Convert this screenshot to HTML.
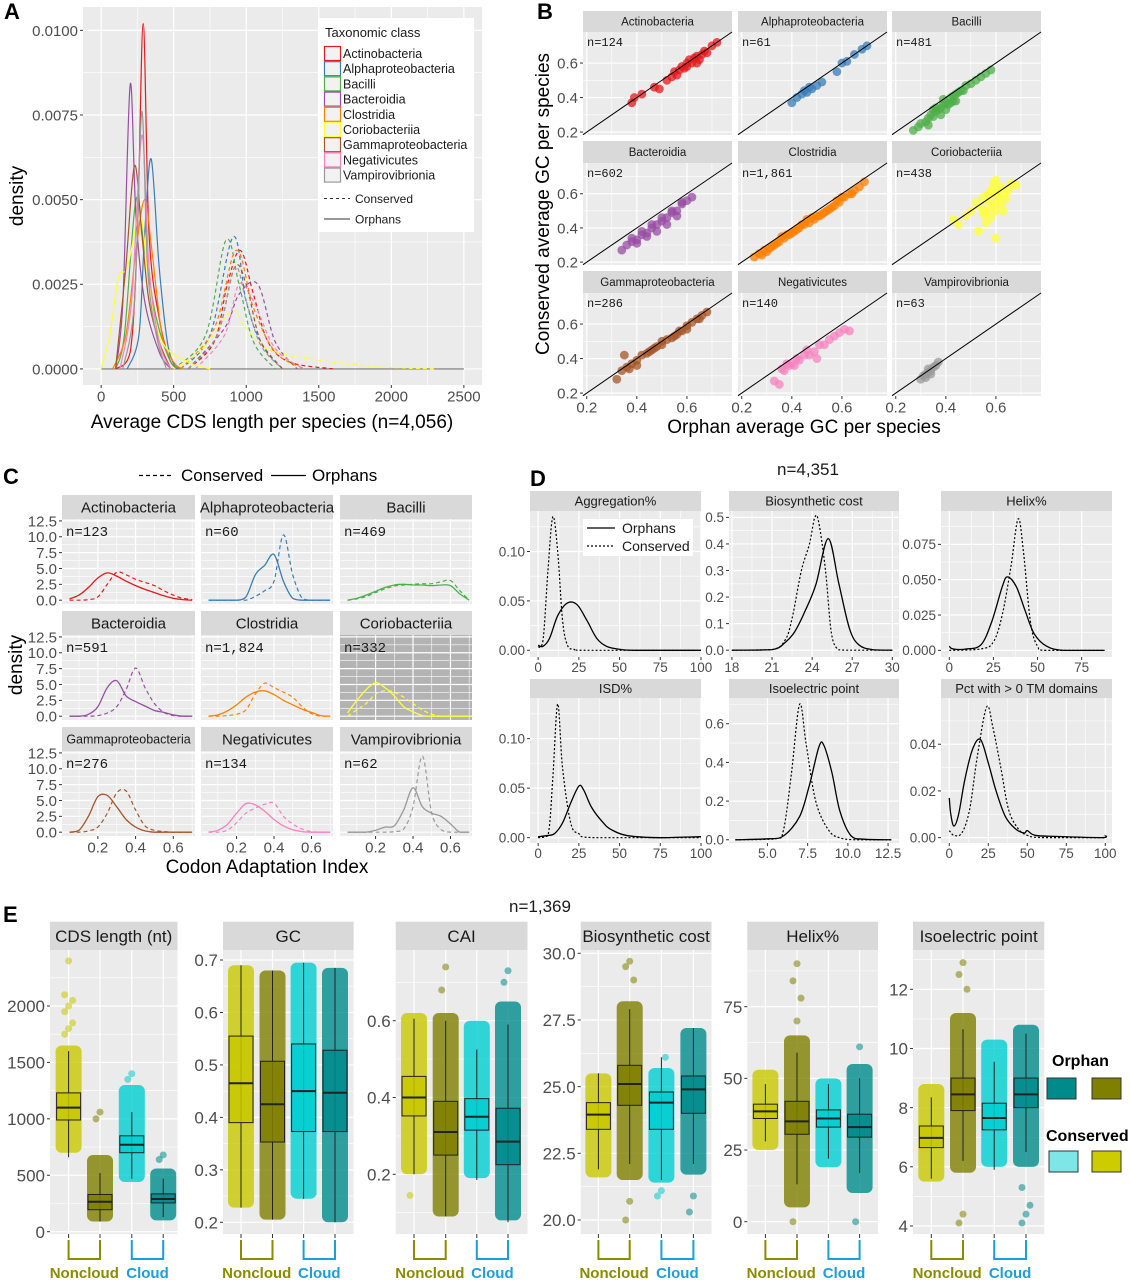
<!DOCTYPE html>
<html><head><meta charset="utf-8"><title>Orphan vs conserved gene features</title>
<style>
html,body{margin:0;padding:0;background:#fff;}
svg{display:block;font-family:"Liberation Sans",Arial,sans-serif;}
</style></head>
<body>
<svg id="fig" width="1131" height="1280" viewBox="0 0 1131 1280" xmlns="http://www.w3.org/2000/svg">
<text x="4" y="19" font-size="22" font-weight="bold">A</text>
<text x="537" y="19" font-size="22" font-weight="bold">B</text>
<text x="3" y="484" font-size="22" font-weight="bold">C</text>
<text x="530" y="486" font-size="22" font-weight="bold">D</text>
<text x="3" y="922" font-size="22" font-weight="bold">E</text>
</svg>
<script>
const aClasses=["Actinobacteria","Alphaproteobacteria","Bacilli","Bacteroidia","Clostridia","Coriobacteriia","Gammaproteobacteria","Negativicutes","Vampirovibrionia"];
const classColors=["#e41a1c","#377eb8","#4daf4a","#984ea3","#ff7f00","#ffff33","#a65628","#f781bf","#999999"];
const aXTicks=[0,500,1000,1500,2000,2500];
const aYTicks=[0,0.0025,0.005,0.0075,0.01];
const aYTickLabels=["0.0000","0.0025","0.0050","0.0075","0.0100"];
const aOrph=[
 [[100,0],[200,0.0005],[250,0.004],[290,0.0102],[330,0.004],[400,0.0015],[480,0.0002],[550,0]],
 [[180,0],[260,0.001],[300,0.004],[345,0.0062],[400,0.003],[460,0.0007],[520,0]],
 [[100,0],[160,0.001],[240,0.005],[300,0.0035],[380,0.0015],[480,0.0002],[560,0]],
 [[100,0],[150,0.002],[200,0.0084],[240,0.0045],[300,0.002],[400,0.0005],[480,0]],
 [[80,0],[170,0.001],[240,0.0035],[300,0.005],[350,0.0035],[420,0.001],[500,0.0002],[560,0]],
 [[0,0],[60,0.001],[120,0.0027],[180,0.003],[270,0.0045],[330,0.0025],[420,0.0008],[600,0.0002],[750,0]],
 [[100,0],[170,0.003],[230,0.006],[280,0.004],[330,0.002],[400,0.0008],[480,0]],
 [[130,0],[210,0.002],[280,0.0069],[330,0.003],[400,0.0008],[480,0]],
 [[150,0],[230,0.002],[280,0.0076],[320,0.003],[380,0.001],[450,0]]
];
const aCons=[
 [[600,0],[780,0.0008],[870,0.0025],[960,0.0035],[1050,0.0022],[1150,0.0008],[1300,0.0002],[1600,0]],
 [[550,0],[750,0.001],[910,0.0039],[1000,0.002],[1100,0.0008],[1250,0]],
 [[500,0],[720,0.001],[860,0.0038],[950,0.0025],[1050,0.0008],[1200,0]],
 [[600,0],[850,0.0012],[950,0.0022],[1080,0.0025],[1200,0.0008],[1350,0]],
 [[550,0],[780,0.0012],[930,0.0035],[1050,0.0018],[1200,0.0005],[1400,0]],
 [[500,0],[700,0.0006],[900,0.0017],[1000,0.0012],[1200,0.0005],[1800,0.0001],[2300,0]],
 [[600,0],[800,0.001],[920,0.003],[1000,0.0025],[1100,0.0008],[1250,0]],
 [[650,0],[850,0.001],[950,0.0025],[1050,0.002],[1200,0.0006],[1400,0]],
 [[600,0],[800,0.001],[920,0.003],[1000,0.002],[1100,0.0007],[1250,0]]
];
const bN=["n=124","n=61","n=481","n=602","n=1,861","n=438","n=286","n=140","n=63"];
const bTicks=[0.2,0.4,0.6];
const bOrphX=[
 [0.38,0.39,0.42,0.47,0.49,0.52,0.54,0.55,0.57,0.58,0.59,0.6,0.61,0.62,0.63,0.64,0.65,0.66,0.67,0.68,0.7,0.72,0.56,0.6,0.64],
 [0.4,0.42,0.44,0.45,0.46,0.47,0.48,0.5,0.52,0.58,0.6,0.62,0.65,0.68,0.7],
 [0.27,0.29,0.3,0.32,0.33,0.34,0.35,0.36,0.37,0.38,0.39,0.4,0.41,0.42,0.43,0.44,0.45,0.46,0.48,0.5,0.52,0.54,0.56,0.58,0.33,0.36,0.38,0.4,0.42,0.44,0.35,0.39,0.43,0.47],
 [0.34,0.36,0.38,0.4,0.42,0.44,0.46,0.48,0.5,0.52,0.54,0.56,0.58,0.6,0.62,0.38,0.42,0.46,0.5,0.54,0.58,0.4,0.44,0.48,0.52,0.56],
 [0.25,0.27,0.29,0.31,0.33,0.35,0.37,0.39,0.41,0.43,0.45,0.47,0.49,0.51,0.53,0.55,0.57,0.59,0.61,0.63,0.65,0.67,0.69,0.28,0.32,0.36,0.4,0.44,0.48,0.52,0.56,0.6,0.64,0.3,0.34,0.38,0.42,0.46,0.5,0.54,0.58],
 [0.43,0.45,0.48,0.5,0.52,0.54,0.55,0.56,0.57,0.58,0.59,0.6,0.61,0.62,0.63,0.64,0.65,0.66,0.68,0.55,0.58,0.6,0.62,0.57,0.59,0.61,0.53,0.56,0.6,0.63,0.58,0.6],
 [0.32,0.34,0.36,0.38,0.4,0.42,0.44,0.46,0.48,0.5,0.52,0.54,0.56,0.58,0.6,0.62,0.64,0.66,0.68,0.35,0.4,0.45,0.5,0.55,0.6,0.65,0.37,0.47,0.57],
 [0.33,0.35,0.37,0.39,0.41,0.43,0.45,0.47,0.49,0.51,0.53,0.55,0.57,0.59,0.61,0.63,0.38,0.42,0.46,0.5,0.36,0.4],
 [0.3,0.31,0.32,0.33,0.33,0.34,0.35,0.36,0.37,0.32,0.34]
];
const bConsY=[
 [0.37,0.4,0.42,0.46,0.45,0.5,0.52,0.55,0.56,0.58,0.57,0.6,0.62,0.6,0.63,0.64,0.62,0.65,0.67,0.66,0.7,0.72,0.53,0.58,0.6],
 [0.37,0.4,0.42,0.44,0.43,0.46,0.45,0.47,0.49,0.55,0.6,0.61,0.65,0.68,0.7],
 [0.21,0.23,0.25,0.26,0.28,0.3,0.29,0.32,0.33,0.34,0.36,0.37,0.36,0.4,0.41,0.42,0.43,0.44,0.47,0.48,0.5,0.52,0.54,0.56,0.24,0.34,0.3,0.33,0.37,0.38,0.33,0.39,0.38,0.44],
 [0.27,0.3,0.32,0.33,0.36,0.37,0.4,0.42,0.44,0.46,0.49,0.5,0.54,0.56,0.58,0.34,0.38,0.42,0.46,0.5,0.55,0.31,0.35,0.38,0.42,0.47],
 [0.23,0.25,0.27,0.28,0.3,0.32,0.34,0.36,0.38,0.4,0.42,0.43,0.45,0.47,0.49,0.51,0.53,0.55,0.58,0.6,0.62,0.64,0.67,0.24,0.29,0.35,0.37,0.42,0.46,0.48,0.52,0.58,0.6,0.26,0.31,0.36,0.39,0.45,0.47,0.5,0.56],
 [0.45,0.42,0.47,0.5,0.55,0.52,0.58,0.5,0.56,0.62,0.6,0.55,0.58,0.64,0.6,0.57,0.62,0.66,0.65,0.48,0.52,0.5,0.54,0.6,0.66,0.62,0.38,0.43,0.68,0.5,0.46,0.34],
 [0.28,0.33,0.35,0.37,0.39,0.42,0.43,0.45,0.47,0.5,0.51,0.52,0.54,0.56,0.59,0.61,0.63,0.65,0.67,0.42,0.36,0.44,0.48,0.53,0.57,0.63,0.34,0.46,0.56],
 [0.27,0.25,0.33,0.36,0.36,0.39,0.42,0.42,0.44,0.48,0.48,0.51,0.53,0.55,0.57,0.56,0.37,0.4,0.45,0.4,0.34,0.37],
 [0.28,0.3,0.31,0.32,0.34,0.33,0.35,0.36,0.38,0.29,0.31]
];
const cN=["n=123","n=60","n=469","n=591","n=1,824","n=332","n=276","n=134","n=62"];
const cGrid=[0.05,0.1,0.15,0.2,0.25,0.3,0.35,0.4,0.45,0.5,0.55,0.6,0.65,0.7];
const cXTicks=[0.2,0.4,0.6];
const cYTicks=[0,2.5,5,7.5,10,12.5];
const cYTickLabels=["0.0","2.5","5.0","7.5","10.0","12.5"];
const cOrph=[
 [0.2,0.8,2,3.5,4.3,3.8,3,2.3,1.7,1.2,0.7,0.3,0.1,0],
 [0,0,0,0,0.5,4,5.5,7.2,3,0.3,0,0,0,0],
 [0,0.3,0.8,1.4,2,2.4,2.5,2.4,2.4,2.3,2.4,2.3,1,0],
 [0,0,0.3,1.5,4.5,5.6,3.2,2.3,1.6,0.9,0.6,0.2,0,0],
 [0,0.2,0.8,1.8,3,3.8,4,3.4,2.5,1.8,1.1,0.6,0.1,0],
 [0.5,2.5,4.2,5.3,4.5,3.2,1.5,0.7,0.1,0,0,0,0,0],
 [0,0.3,2.5,5.6,5.8,4,2,0.8,0.2,0,0,0,0,0],
 [0,0.3,1.2,3,4.5,4.3,3.3,2,1,0.4,0.1,0,0,0],
 [0,0,0,0.3,0.8,1,3.5,7,4,3,2.5,1.3,0,0]
];
const cCons=[
 [0,0,0.1,0.5,2.5,4.4,4,3.3,2.8,2.3,1.5,0.8,0.3,0.1],
 [0,0,0,0,0,0.6,1.5,3,10.3,4,0.3,0,0,0],
 [0,0.2,0.6,1.2,1.8,2.2,2.4,2.5,2.6,2.6,2.9,3.1,1.5,0],
 [0,0,0,0.1,0.5,1.5,4.2,7.6,4.5,2,0.6,0.1,0,0],
 [0,0,0.1,0.3,1,3.5,5.2,4.5,3.8,3,1.5,0.4,0,0],
 [0,1,2,3.5,4,3.8,3,2,1,0.3,0,0,0,0],
 [0,0,0.2,0.8,3,6.2,6.5,3.5,1,0.3,0.1,0,0,0],
 [0,0,0.3,1.5,3,3.8,4.4,4.6,2.5,1.3,0.5,0.1,0,0],
 [0,0,0,0,0,0.1,0.5,4,12,3,0.4,0,0,0]
];
const dNames=["Aggregation%","Biosynthetic cost","Helix%","ISD%","Isoelectric point","Pct with > 0 TM domains"];
const dXTicks=[[0,25,50,75,100],[18,21,24,27,30],[0,25,50,75],[0,25,50,75,100],[5,7.5,10,12.5],[0,25,50,75,100]];
const dXTickLabels=[["0","25","50","75","100"],["18","21","24","27","30"],["0","25","50","75"],["0","25","50","75","100"],["5.0","7.5","10.0","12.5"],["0","25","50","75","100"]];
const dYTicks=[[0,0.05,0.1],[0,0.1,0.2,0.3,0.4,0.5],[0,0.025,0.05,0.075],[0,0.05,0.1],[0,0.2,0.4,0.6],[0,0.02,0.04]];
const dYTickLabels=[["0.00","0.05","0.10"],["0.0","0.1","0.2","0.3","0.4","0.5"],["0.000","0.025","0.050","0.075"],["0.00","0.05","0.10"],["0.0","0.2","0.4","0.6"],["0.00","0.02","0.04"]];
const dOrph=[
 [[0,0.005],[3,0.004],[7,0.012],[12,0.035],[18,0.048],[24,0.046],[30,0.03],[36,0.012],[42,0.004],[50,0.001],[60,0],[100,0]],
 [[18,0],[21,0.002],[22,0.03],[22.7,0.07],[23.5,0.15],[24.3,0.25],[25.2,0.42],[26,0.25],[26.8,0.08],[27.5,0.02],[28.5,0.002],[30,0]],
 [[0,0.003],[2,0.001],[10,0.001],[18,0.004],[24,0.02],[30,0.045],[33,0.052],[38,0.045],[43,0.028],[48,0.012],[55,0.003],[65,0],[88,0]],
 [[0,0.001],[5,0.002],[10,0.004],[15,0.015],[20,0.035],[25,0.052],[28,0.048],[33,0.03],[40,0.015],[45,0.008],[55,0.002],[75,0],[100,0.001]],
 [[3,0],[5,0.005],[6,0.02],[7,0.12],[7.6,0.28],[8.2,0.48],[8.5,0.49],[9,0.35],[9.5,0.15],[10.2,0.02],[11,0.003],[12.7,0]],
 [[0,0.017],[1,0.01],[3,0.005],[6,0.01],[10,0.025],[15,0.038],[20,0.042],[25,0.032],[30,0.02],[36,0.009],[42,0.004],[48,0.002],[50,0.003],[55,0.001],[70,0.0005],[98,0],[100,0.001]]
];
const dCons=[
 [[0,0.003],[3,0.01],[6,0.08],[9,0.135],[12,0.1],[15,0.03],[18,0.005],[22,0.001],[30,0],[100,0]],
 [[18,0],[21,0.002],[22,0.04],[22.5,0.12],[23.2,0.3],[23.8,0.4],[24.2,0.5],[24.5,0.48],[25,0.3],[25.4,0.08],[25.8,0.01],[26.5,0],[30,0]],
 [[0,0],[18,0.001],[25,0.006],[30,0.025],[35,0.06],[39,0.093],[42,0.07],[46,0.02],[50,0.003],[55,0],[88,0]],
 [[0,0],[6,0.002],[9,0.06],[12,0.135],[15,0.07],[20,0.015],[25,0.004],[35,0],[100,0]],
 [[3,0],[5.5,0.005],[6,0.05],[6.5,0.35],[7,0.7],[7.4,0.5],[8,0.2],[8.8,0.05],[9.5,0.01],[10.5,0],[12.7,0]],
 [[0,0.003],[3,0.001],[8,0.002],[13,0.012],[18,0.035],[24,0.056],[28,0.047],[33,0.03],[38,0.012],[44,0.004],[50,0.001],[60,0],[100,0]]
];
const eNames=["CDS length (nt)","GC","CAI","Biosynthetic cost","Helix%","Isoelectric point"];
const eGroupColors=["#c8c800","#808000","#00ced1","#008b8b"];
const eYTicks=[[0,500,1000,1500,2000],[0.2,0.3,0.4,0.5,0.6,0.7],[0.2,0.4,0.6],[20,22.5,25,27.5,30],[0,25,50,75],[4,6,8,10,12]];
const eYTickLabels=[["0","500","1000","1500","2000"],["0.2","0.3","0.4","0.5","0.6","0.7"],["0.2","0.4","0.6"],["20.0","22.5","25.0","27.5","30.0"],["0","25","50","75"],["4","6","8","10","12"]];
const eBoxes=[
 [[990,1100,1230],[195,265,330],[700,770,850],[255,290,335]],
 [[0.39,0.465,0.555],[0.353,0.425,0.507],[0.373,0.45,0.54],[0.373,0.447,0.528]],
 [[0.352,0.4,0.455],[0.25,0.31,0.39],[0.315,0.35,0.397],[0.225,0.285,0.372]],
 [[23.4,23.95,24.4],[24.3,25.1,25.8],[23.4,24.4,24.8],[24,24.9,25.4]],
 [[36,38.5,41],[30.5,35,42],[33,36,39],[29.5,33,37.5]],
 [[6.65,6.98,7.38],[7.9,8.45,9.0],[7.25,7.65,8.15],[8.0,8.45,9.0]]
];
const eWhisk=[
 [[660,1600],[90,520],[470,1060],[130,470]],
 [[0.228,0.69],[0.205,0.68],[0.245,0.695],[0.2,0.685]],
 [[0.2,0.605],[0.09,0.6],[0.185,0.525],[0.075,0.59]],
 [[21.9,25.5],[22.1,27.9],[21.5,26.1],[22.1,27.2]],
 [[28,48],[13,59],[22,48],[17,50]],
 [[5.6,8.35],[6.2,10.65],[5.9,9.55],[6.5,10.5]]
];
const eDense=[
 [[700,1650],[90,680],[440,1300],[100,560]],
 [[0.228,0.69],[0.205,0.68],[0.245,0.695],[0.2,0.685]],
 [[0.2,0.62],[0.09,0.62],[0.19,0.6],[0.08,0.65]],
 [[21.6,25.5],[21.5,28.2],[21.4,25.7],[21.7,27.2]],
 [[25,53],[5,65],[19,50],[10,55]],
 [[5.5,8.8],[5.8,11.2],[6,10.3],[6,10.8]]
];
const eOutliers=[
 [[1750,1800,1850,1950,2000,2050,2100,2400],[1000,1060],[1350,1400],[640,680]],
 [[],[],[],[]],
 [[0.145],[0.68,0.74],[],[0.7,0.73]],
 [[],[20,20.7,29,29.5,29.7],[20.9,21.1,26.1],[20.3,20.9]],
 [[],[0,70,78,84,90],[],[0,61]],
 [[],[4.1,4.4,12,12.5,12.9],[],[4.1,4.4,4.7,5.3]]
];

const NS="http://www.w3.org/2000/svg";
const fig=document.getElementById("fig");
function mk(tag,attrs,parent,name){
 const e=document.createElementNS(NS,tag);
 for(const k in attrs) e.setAttribute(k,attrs[k]);
 
 
 (parent||fig).appendChild(e);
 return e;
}
function txt(parent,x,y,s,o,name){
 o=o||{};
 const e=mk("text",{x:x,y:y,"font-size":o.fs||12,fill:o.fill||"#4d4d4d","text-anchor":o.anchor||"start","font-weight":o.fw||"normal","font-family":o.ff||"'Liberation Sans',Arial,sans-serif"},parent,name);
 if(o.rot) e.setAttribute("transform","rotate("+o.rot+" "+x+" "+y+")");
 e.textContent=s;
 return e;
}
function lin(d0,d1,r0,r1){return v=>r0+(v-d0)/(d1-d0)*(r1-r0);}
function smooth(pts,base){
 let d="M"+pts[0][0].toFixed(1)+","+pts[0][1].toFixed(1);
 for(let i=0;i<pts.length-1;i++){
  const p0=pts[i-1]||pts[i],p1=pts[i],p2=pts[i+1],p3=pts[i+2]||p2;
  let c1=[p1[0]+(p2[0]-p0[0])/6,p1[1]+(p2[1]-p0[1])/6];
  let c2=[p2[0]-(p3[0]-p1[0])/6,p2[1]-(p3[1]-p1[1])/6];
  if(base!==undefined){c1[1]=Math.min(c1[1],base);c2[1]=Math.min(c2[1],base);}
  d+=" C"+c1[0].toFixed(1)+","+c1[1].toFixed(1)+" "+c2[0].toFixed(1)+","+c2[1].toFixed(1)+" "+p2[0].toFixed(1)+","+p2[1].toFixed(1);
 }
 return d;
}
function mids(a){const r=[];for(let i=0;i<a.length-1;i++)r.push((a[i]+a[i+1])/2);return r;}
function panel(g,c){
 const sx=lin(c.xd[0],c.xd[1],c.x0,c.x1), sy=lin(c.yd[0],c.yd[1],c.y1,c.y0);
 mk("rect",{x:c.x0,y:c.y0,width:c.x1-c.x0,height:c.y1-c.y0,fill:c.bg||"#ebebeb"},g,"panel-background");
 const inX=v=>sx(v)>=c.x0-0.5&&sx(v)<=c.x1+0.5, inY=v=>sy(v)>=c.y0-0.5&&sy(v)<=c.y1+0.5;
 (c.xMin||[]).filter(inX).forEach(v=>mk("line",{x1:sx(v),x2:sx(v),y1:c.y0,y2:c.y1,stroke:"#fff","stroke-width":0.6},g,"minor-gridline"));
 (c.yMin||[]).filter(inY).forEach(v=>mk("line",{x1:c.x0,x2:c.x1,y1:sy(v),y2:sy(v),stroke:"#fff","stroke-width":0.6},g,"minor-gridline"));
 (c.xMaj||[]).filter(inX).forEach(v=>mk("line",{x1:sx(v),x2:sx(v),y1:c.y0,y2:c.y1,stroke:"#fff","stroke-width":1.2},g,"major-gridline"));
 (c.yMaj||[]).filter(inY).forEach(v=>mk("line",{x1:c.x0,x2:c.x1,y1:sy(v),y2:sy(v),stroke:"#fff","stroke-width":1.2},g,"major-gridline"));
 const fs=c.fs||13;
 if(c.xLab) c.xMaj.forEach((v,i)=>{
  mk("line",{x1:sx(v),x2:sx(v),y1:c.y1,y2:c.y1+3,stroke:"#333","stroke-width":1},g,"x-tick");
  txt(g,sx(v),c.y1+3+fs*0.9,c.xLabels?c.xLabels[i]:String(v),{fs:fs,anchor:"middle"},"x-tick-label");
 });
 if(c.yLab) c.yMaj.forEach((v,i)=>{
  mk("line",{x1:c.x0-3,x2:c.x0,y1:sy(v),y2:sy(v),stroke:"#333","stroke-width":1},g,"y-tick");
  txt(g,c.x0-5,sy(v)+fs*0.36,c.yLabels?c.yLabels[i]:String(v),{fs:fs,anchor:"end"},"y-tick-label");
 });
 return {sx,sy};
}
function strip(g,x0,x1,y0,y1,s,fs,name){
 mk("rect",{x:x0,y:y0,width:x1-x0,height:y1-y0,fill:"#d9d9d9"},g,"strip-background");
 txt(g,(x0+x1)/2,(y0+y1)/2+fs*0.36,s,{fs:fs,anchor:"middle",fill:"#1a1a1a"},name);
}

// PANEL A
(function(){
 const g=mk("g",{},fig,"panel-a");
 const p=panel(g,{x0:83,x1:482,y0:7,y1:385,xd:[-125,2625],yd:[-0.000475,0.01069],xMaj:aXTicks,xMin:mids(aXTicks),yMaj:aYTicks,yMin:mids(aYTicks),xLab:1,yLab:1,yLabels:aYTickLabels,fs:15});
 const base=p.sy(0);
 mk("line",{x1:p.sx(0),x2:p.sx(2500),y1:base,y2:base,stroke:"#777","stroke-width":1.2},g,"zero-baseline");
 aCons.forEach((c,i)=>mk("path",{d:smooth(c.map(q=>[p.sx(q[0]),p.sy(q[1])]),base),fill:"none",stroke:classColors[i],"stroke-width":1.2,"stroke-dasharray":"4,3"},g,"conserved-curve-"+aClasses[i].toLowerCase()));
 aOrph.forEach((c,i)=>mk("path",{d:smooth(c.map(q=>[p.sx(q[0]),p.sy(q[1])]),base),fill:"none",stroke:classColors[i],"stroke-width":1.2},g,"orphan-curve-"+aClasses[i].toLowerCase()));
 txt(g,272,428,"Average CDS length per species (n=4,056)",{fs:19,anchor:"middle",fill:"#000"},"x-axis-title");
 txt(g,23,196,"density",{fs:19,anchor:"middle",fill:"#000",rot:-90},"y-axis-title");
 const lg=mk("g",{},g,"legend");
 mk("rect",{x:318,y:18,width:156,height:214,fill:"#fff"},lg,"legend-background");
 txt(lg,325,37,"Taxonomic class",{fs:13,fill:"#1a1a1a"},"legend-title");
 aClasses.forEach((n,i)=>{
  const cy=53.5+i*15.2;
  mk("rect",{x:324.5,y:cy-7,width:16,height:14,fill:"#f2f2f2",stroke:classColors[i],"stroke-width":1.2},lg,"legend-key");
  txt(lg,343,cy+4.5,n,{fs:12.5,fill:"#1a1a1a"},"legend-entry");
 });
 mk("line",{x1:324,x2:350,y1:198.5,y2:198.5,stroke:"#333","stroke-dasharray":"3,3","stroke-width":1.1},lg,"legend-key-conserved");
 txt(lg,355,203,"Conserved",{fs:12,fill:"#1a1a1a"},"legend-entry");
 mk("line",{x1:324,x2:350,y1:219,y2:219,stroke:"#333","stroke-width":1.1},lg,"legend-key-orphans");
 txt(lg,355,223.5,"Orphans",{fs:12,fill:"#1a1a1a"},"legend-entry");
})();

// PANEL B
(function(){
 const g=mk("g",{},fig,"panel-b");
 const cols=[[583,732],[738,887],[892,1041]];
 const rows=[[11,32,135],[141,163,265],[271,293,396]];
 for(let i=0;i<9;i++){
  const c=cols[i%3],r=rows[Math.floor(i/3)];
  const fg=mk("g",{},g,"facet-"+aClasses[i].toLowerCase());
  strip(fg,c[0],c[1],r[0],r[1],aClasses[i],11.5,"strip-label");
  const p=panel(fg,{x0:c[0],x1:c[1],y0:r[1],y1:r[2],xd:[0.185,0.78],yd:[0.183,0.78],xMaj:bTicks,xMin:[0.3,0.5,0.7],yMaj:bTicks,yMin:[0.3,0.5,0.7],xLab:i>=6,yLab:i%3==0,fs:15});
  bOrphX[i].forEach((x,j)=>mk("circle",{cx:p.sx(x),cy:p.sy(bConsY[i][j]),r:4.4,fill:classColors[i],"fill-opacity":0.75},fg,"point"));
  mk("line",{x1:p.sx(0.185),y1:p.sy(0.185),x2:p.sx(0.78),y2:p.sy(0.78),stroke:"#000","stroke-width":1},fg,"identity-line");
  txt(fg,c[0]+4,r[1]+14,bN[i],{fs:12,fill:"#1a1a1a",ff:"'Liberation Mono',monospace"},"n-label");
 }
 txt(g,804,433,"Orphan average GC per species",{fs:19,anchor:"middle",fill:"#000"},"x-axis-title");
 txt(g,549,204,"Conserved average GC per species",{fs:19,anchor:"middle",fill:"#000",rot:-90},"y-axis-title");
})();

// PANEL C
(function(){
 const g=mk("g",{},fig,"panel-c");
 mk("line",{x1:139,x2:174,y1:475.5,y2:475.5,stroke:"#000","stroke-dasharray":"4,3","stroke-width":1.2},g,"legend-key-conserved");
 txt(g,181,481,"Conserved",{fs:17,fill:"#000"},"legend-entry");
 mk("line",{x1:271,x2:306,y1:475.5,y2:475.5,stroke:"#000","stroke-width":1.2},g,"legend-key-orphans");
 txt(g,312,481,"Orphans",{fs:17,fill:"#000"},"legend-entry");
 const cols=[[62,195],[201,333],[340,472]];
 const rows=[[495,519,604],[611,635,720],[727,751,836]];
 for(let i=0;i<9;i++){
  const c=cols[i%3],r=rows[Math.floor(i/3)];
  const fg=mk("g",{},g,"facet-"+aClasses[i].toLowerCase());
  strip(fg,c[0],c[1],r[0],r[1],aClasses[i],i==6?12.5:15,"strip-label");
  const p=panel(fg,{x0:c[0],x1:c[1],y0:r[1],y1:r[2],xd:[0.01,0.715],yd:[-0.6,12.8],xMaj:cXTicks,xMin:[0.1,0.3,0.5,0.7],yMaj:cYTicks,yMin:mids(cYTicks),xLab:i>=6,yLab:i%3==0,yLabels:cYTickLabels,fs:15,bg:i==5?"#b3b3b3":"#ebebeb"});
  const base=p.sy(0);
  mk("path",{d:smooth(cGrid.map((x,j)=>[p.sx(x),p.sy(cCons[i][j])]),base),fill:"none",stroke:classColors[i],"stroke-width":1.2,"stroke-dasharray":"4,3"},fg,"conserved-curve");
  mk("path",{d:smooth(cGrid.map((x,j)=>[p.sx(x),p.sy(cOrph[i][j])]),base),fill:"none",stroke:classColors[i],"stroke-width":1.3},fg,"orphan-curve");
  txt(fg,c[0]+4,r[1]+17,cN[i],{fs:14,fill:"#1a1a1a",ff:"'Liberation Mono',monospace"},"n-label");
 }
 txt(g,267,873,"Codon Adaptation Index",{fs:19,anchor:"middle",fill:"#000"},"x-axis-title");
 txt(g,22,665,"density",{fs:19,anchor:"middle",fill:"#000",rot:-90},"y-axis-title");
})();

// PANEL D
(function(){
 const g=mk("g",{},fig,"panel-d");
 txt(g,808,475,"n=4,351",{fs:17,anchor:"middle",fill:"#1a1a1a"},"panel-d-title");
 const cols=[[530,701],[729,899],[941,1112]];
 const rows=[[491,511,657],[679,698,843]];
 const xd=[[-5,100],[17.78,30.5],[-4.7,92.2],[-5,100],[2.61,13.18],[-5.3,104.3]];
 const yd=[[-0.0068,0.141],[-0.0257,0.524],[-0.0047,0.0986],[-0.0054,0.141],[-0.0167,0.733],[-0.0023,0.0598]];
 for(let i=0;i<6;i++){
  const c=cols[i%3],r=rows[Math.floor(i/3)];
  const fg=mk("g",{},g,"facet-"+dNames[i].toLowerCase().replace(/[^a-z0-9]+/g,"-"));
  strip(fg,c[0],c[1],r[0],r[1],dNames[i],13,"strip-label");
  const xm=dXTicks[i],ym=dYTicks[i];
  const p=panel(fg,{x0:c[0],x1:c[1],y0:r[1],y1:r[2],xd:xd[i],yd:yd[i],xMaj:xm,xMin:mids(xm),yMaj:ym,yMin:mids(ym).concat([ym[ym.length-1]+(ym[1]-ym[0])/2]),xLab:1,yLab:1,xLabels:dXTickLabels[i],yLabels:dYTickLabels[i],fs:13.5});
  const base=p.sy(0);
  mk("path",{d:smooth(dCons[i].map(q=>[p.sx(q[0]),p.sy(q[1])]),base),fill:"none",stroke:"#000","stroke-width":1.2,"stroke-dasharray":"2,2"},fg,"conserved-curve");
  mk("path",{d:smooth(dOrph[i].map(q=>[p.sx(q[0]),p.sy(q[1])]),base),fill:"none",stroke:"#000","stroke-width":1.3},fg,"orphan-curve");
 }
 const lg=mk("g",{},g,"legend");
 mk("rect",{x:583,y:519,width:110,height:37,fill:"#fff"},lg,"legend-background");
 mk("line",{x1:587,x2:615,y1:528,y2:528,stroke:"#000","stroke-width":1.3},lg,"legend-key-orphans");
 txt(lg,622,533,"Orphans",{fs:14,fill:"#1a1a1a"},"legend-entry");
 mk("line",{x1:587,x2:615,y1:546,y2:546,stroke:"#000","stroke-width":1.2,"stroke-dasharray":"2,2"},lg,"legend-key-conserved");
 txt(lg,622,551,"Conserved",{fs:14,fill:"#1a1a1a"},"legend-entry");
})();

// PANEL E
(function(){
 const g=mk("g",{},fig,"panel-e");
 txt(g,540,912,"n=1,369",{fs:17,anchor:"middle",fill:"#1a1a1a"},"panel-e-title");
 const facets=[
  {x0:50,x1:177.5,c:[68.6,100,131.8,163.2],yd:[0,2000],yr:[1231.7,1006]},
  {x0:223,x1:353.6,c:[241,272.5,303.6,335],yd:[0.2,0.7],yr:[1222.3,960]},
  {x0:395.7,x1:527.5,c:[414,445.7,476.8,508],yd:[0.2,0.6],yr:[1174.3,1020.7]},
  {x0:580.7,x1:711.5,c:[598.4,629.7,661.4,693.4],yd:[20,30],yr:[1220,953.3]},
  {x0:747.3,x1:878,c:[765.4,797,828.4,859.6],yd:[0,75],yr:[1221.7,1006.7]},
  {x0:913,x1:1044.3,c:[931.3,963,994.2,1026],yd:[4,12],yr:[1226,989.3]}
 ];
 facets.forEach((f,i)=>{
  const fg=mk("g",{},g,"facet-"+eNames[i].toLowerCase().replace(/[^a-z0-9]+/g,"-"));
  strip(fg,f.x0,f.x1,921.7,950,eNames[i],17,"strip-label");
  const sy0=lin(f.yd[0],f.yd[1],f.yr[0],f.yr[1]);
  const yd=[f.yd[0]+(1234-f.yr[0])/(f.yr[1]-f.yr[0])*(f.yd[1]-f.yd[0]),f.yd[0]+(950-f.yr[0])/(f.yr[1]-f.yr[0])*(f.yd[1]-f.yd[0])];
  const ym=eYTicks[i];
  const yMin=mids(ym).concat([ym[ym.length-1]+(ym[1]-ym[0])/2,ym[0]-(ym[1]-ym[0])/2]);
  panel(fg,{x0:f.x0,x1:f.x1,y0:950,y1:1234,xd:[0,1],yd:yd,xMaj:[],yMaj:ym,yMin:yMin,yLab:1,yLabels:eYTickLabels[i],fs:17});
  f.c.forEach(cx=>mk("line",{x1:cx,x2:cx,y1:950,y2:1234,stroke:"#fff","stroke-width":1.2},fg,"major-gridline"));
  f.c.forEach((cx,k)=>{
   const col=eGroupColors[k];
   const d=eDense[i][k];
   mk("rect",{x:cx-13,y:sy0(d[1]),width:26,height:sy0(d[0])-sy0(d[1]),rx:6,fill:col,"fill-opacity":0.8},fg,"jitter-points");
   eOutliers[i][k].forEach((v,j)=>mk("circle",{cx:cx+((j%3)-1)*4,cy:sy0(v),r:3.5,fill:col,"fill-opacity":0.55},fg,"outlier-point"));
   const w=eWhisk[i][k],b=eBoxes[i][k];
   mk("line",{x1:cx,x2:cx,y1:sy0(w[0]),y2:sy0(w[1]),stroke:"#222","stroke-width":1},fg,"whisker");
   mk("rect",{x:cx-12,y:sy0(b[2]),width:24,height:sy0(b[0])-sy0(b[2]),fill:col,"fill-opacity":0.85,stroke:"#222","stroke-width":1},fg,"box");
   mk("line",{x1:cx-12,x2:cx+12,y1:sy0(b[1]),y2:sy0(b[1]),stroke:"#222","stroke-width":2},fg,"median");
   mk("line",{x1:cx,x2:cx,y1:1234,y2:1238,stroke:"#333","stroke-width":1},fg,"x-tick");
  });
  mk("path",{d:"M"+f.c[0]+",1240 V1259 H"+f.c[1]+" V1240",fill:"none",stroke:"#8b8b00","stroke-width":2},fg,"noncloud-bracket");
  mk("path",{d:"M"+f.c[2]+",1240 V1259 H"+f.c[3]+" V1240",fill:"none",stroke:"#1e9ed8","stroke-width":2},fg,"cloud-bracket");
  txt(fg,(f.c[0]+f.c[1])/2,1278,"Noncloud",{fs:15,fw:"bold",anchor:"middle",fill:"#8b8b00"},"noncloud-label");
  txt(fg,(f.c[2]+f.c[3])/2,1278,"Cloud",{fs:15,fw:"bold",anchor:"middle",fill:"#1e9ed8"},"cloud-label");
 });
 const lg=mk("g",{},g,"legend");
 txt(lg,1052,1066,"Orphan",{fs:16,fw:"bold",fill:"#000"},"legend-title-orphan");
 mk("rect",{x:1047,y:1078,width:29,height:21,fill:"#008b8b",stroke:"#333","stroke-width":1},lg,"legend-key-cloud-orphan");
 mk("rect",{x:1092,y:1078,width:29,height:21,fill:"#808000",stroke:"#333","stroke-width":1},lg,"legend-key-noncloud-orphan");
 txt(lg,1046,1141,"Conserved",{fs:16,fw:"bold",fill:"#000"},"legend-title-conserved");
 mk("rect",{x:1049,y:1151,width:29,height:21,fill:"#7fe6e8",stroke:"#333","stroke-width":1},lg,"legend-key-cloud-conserved");
 mk("rect",{x:1092,y:1151,width:29,height:21,fill:"#cccc00",stroke:"#333","stroke-width":1},lg,"legend-key-noncloud-conserved");
})();
</script>
</body></html>
